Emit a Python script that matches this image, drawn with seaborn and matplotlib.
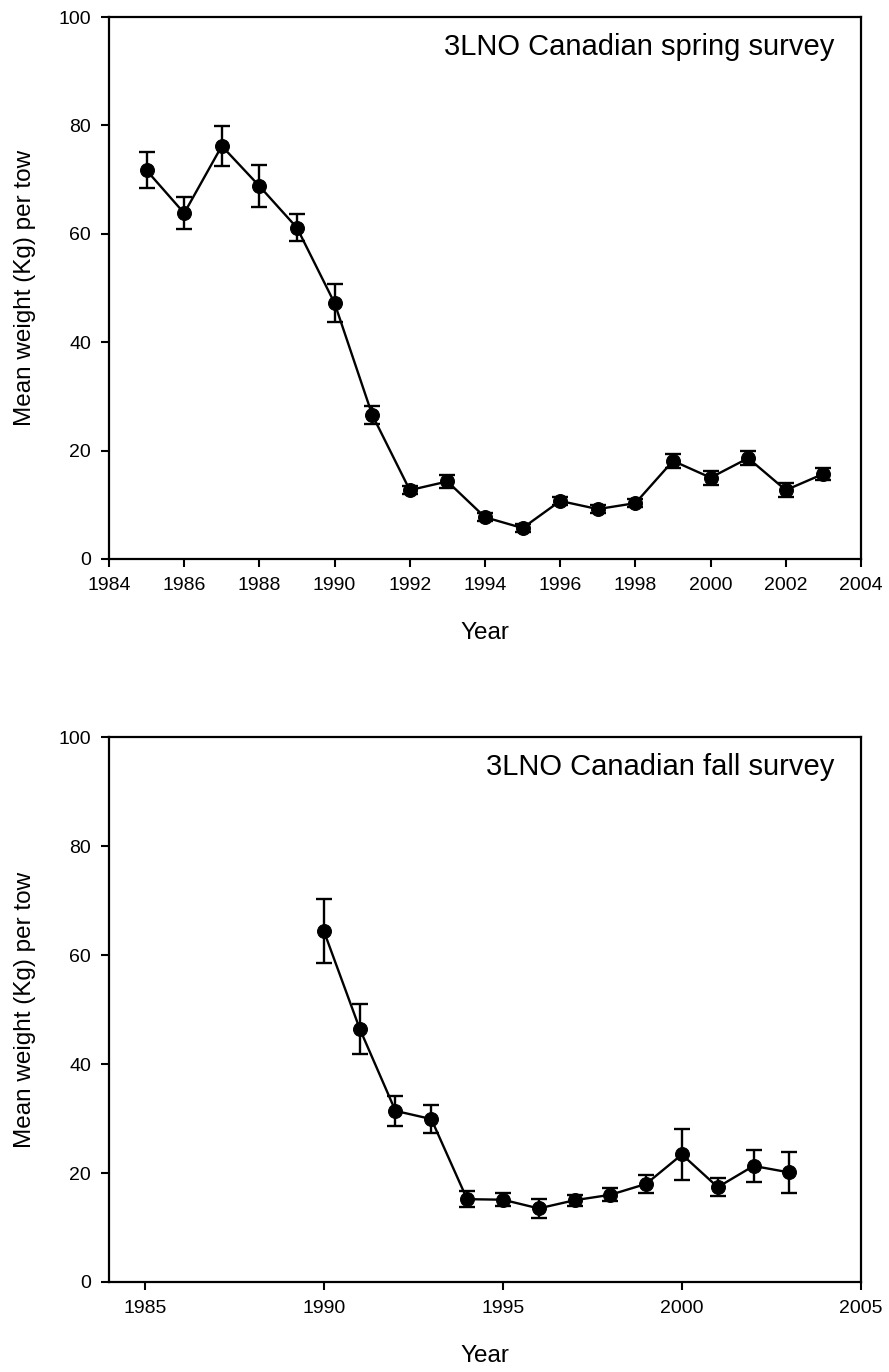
import numpy as np
import pandas as pd
import seaborn as sns
import matplotlib.pyplot as plt

# spring survey (3LNO Canadian)
spring_years = [1985, 1986, 1987, 1988, 1989, 1990, 1991, 1992, 1993, 1994,
                1995, 1996, 1997, 1998, 1999, 2000, 2001, 2002, 2003]
spring_mean = [71.7, 63.8, 76.2, 68.8, 61.1, 47.2, 26.6, 12.7, 14.3, 7.7,
               5.7, 10.7, 9.2, 10.3, 18.1, 15.0, 18.6, 12.7, 15.7]
spring_err = [3.3, 3.0, 3.7, 3.9, 2.5, 3.5, 1.7, 0.8, 1.2, 0.7,
              0.7, 0.8, 0.8, 0.8, 1.3, 1.3, 1.3, 1.3, 1.1]

# fall survey (3LNO Canadian)
fall_years = [1990, 1991, 1992, 1993, 1994, 1995, 1996, 1997, 1998, 1999,
              2000, 2001, 2002, 2003]
fall_mean = [64.4, 46.5, 31.4, 29.9, 15.2, 15.1, 13.5, 15.0, 16.0, 18.0,
             23.4, 17.4, 21.3, 20.1]
fall_err = [5.9, 4.6, 2.7, 2.6, 1.5, 1.2, 1.7, 1.0, 1.2, 1.7,
            4.6, 1.7, 2.9, 3.7]

spring_ticks = list(range(1984, 2005, 2))
fall_ticks = [1985, 1990, 1995, 2000, 2005]

sns.set_style("ticks")
plt.rcParams['font.family'] = ['Liberation Sans', 'DejaVu Sans']
plt.rcParams['text.color'] = 'black'
plt.rcParams['axes.labelcolor'] = 'black'

fig = plt.figure(figsize=(8.89, 13.72), dpi=100)
ax1 = fig.add_axes([0.1226, 0.5926, 0.8459, 0.3950])
ax2 = fig.add_axes([0.1226, 0.0656, 0.8459, 0.3972])


def survey_panel(ax, years, mean, err, xlim, xticks, title):
    df = pd.DataFrame({"Year": years, "Mean": mean, "Err": err})
    ax.errorbar(df["Year"], df["Mean"], yerr=df["Err"], fmt="none",
                ecolor="black", elinewidth=1.7, capsize=5.5, capthick=1.7, zorder=2)
    sns.lineplot(data=df, x="Year", y="Mean", ax=ax, color="black",
                 linewidth=1.7, marker="o", markersize=10,
                 markeredgecolor="black", markerfacecolor="black", zorder=3)
    ax.set_xlim(*xlim)
    ax.set_ylim(0, 100)
    ax.set_xticks(xticks)
    ax.set_yticks([0, 20, 40, 60, 80, 100])
    ax.tick_params(axis="both", direction="out", length=6, width=1.5,
                   labelsize=14, colors="black", pad=7)
    for s in ax.spines.values():
        s.set_linewidth(1.6)
        s.set_color("black")
    ax.set_xlabel("Year", fontsize=17.5, labelpad=20)
    ax.set_ylabel("Mean weight (Kg) per tow", fontsize=17.5, labelpad=16)
    ax.text(0.965, 0.945, title, transform=ax.transAxes, ha="right",
            va="center", fontsize=21)


survey_panel(ax1, spring_years, spring_mean, spring_err, (1984, 2004),
             spring_ticks, "3LNO Canadian spring survey")
survey_panel(ax2, fall_years, fall_mean, fall_err, (1984, 2005),
             fall_ticks, "3LNO Canadian fall survey")

fig.savefig("out.png", dpi=100, facecolor="white")
